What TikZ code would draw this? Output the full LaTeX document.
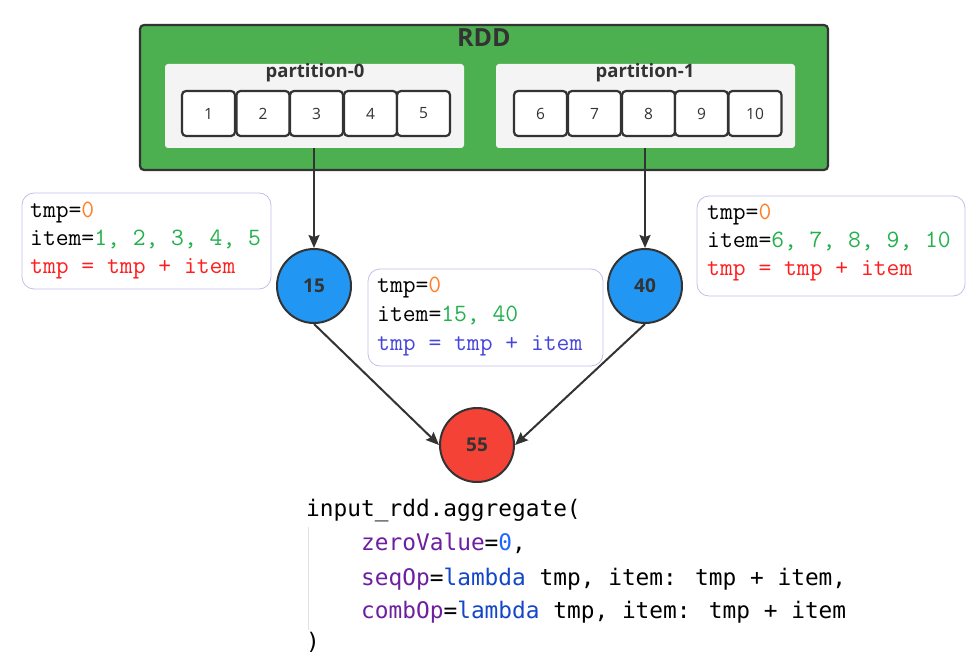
\documentclass[tikz,border=0pt]{standalone}
\usepackage{fontspec}
\setmainfont{Open Sans}
\newfontfamily\codefont{DejaVu Sans Mono}
\usetikzlibrary{arrows.meta}
\definecolor{rddgreen}{RGB}{76,175,80}
\definecolor{dark}{RGB}{51,51,51}
\definecolor{partfill}{RGB}{244,244,244}
\definecolor{cblue}{RGB}{33,150,243}
\definecolor{cred}{RGB}{244,67,54}
\definecolor{lav}{RGB}{195,190,235}
\definecolor{torange}{RGB}{255,127,39}
\definecolor{tgreen}{RGB}{34,177,76}
\definecolor{tred}{RGB}{255,30,30}
\definecolor{tblue}{RGB}{70,70,220}
\definecolor{kpurple}{RGB}{110,30,160}
\definecolor{knum}{RGB}{30,100,255}
\definecolor{kblue}{RGB}{20,70,200}
\definecolor{guide}{RGB}{225,225,225}
\tikzset{
  rddbox/.style={draw=dark, line width=2.2pt, fill=rddgreen, rounded corners=4pt, minimum width=688pt, minimum height=145pt},
  partbox/.style={fill=partfill, rounded corners=3pt, minimum width=299pt, minimum height=84pt},
  elem/.style={draw=dark, line width=2.2pt, fill=white, rounded corners=4pt, minimum width=53pt, minimum height=45pt, text=dark, font=\fontsize{15.5}{17}\selectfont},
  res/.style={circle, draw=dark, line width=2pt, minimum size=74pt, text=dark, font=\bfseries\fontsize{19}{21}\selectfont},
  arr/.style={draw=dark, line width=2pt, -{Stealth[length=13pt,width=11pt,inset=2pt]}},
  note/.style={draw=lav, line width=0.8pt, rounded corners=12pt, fill=white},
  ln/.style={anchor=base west, inner sep=0pt, font=\ttfamily\fontsize{24.9}{28}\selectfont},
  cd/.style={anchor=base west, inner sep=0pt, font=\codefont\fontsize{22.8}{26}\selectfont},
  lbl/.style={inner sep=0pt, text=dark, font=\bfseries\fontsize{18.5}{20}\selectfont}
}
\begin{document}
\begin{tikzpicture}[x=1pt,y=-1pt]
\useasboundingbox (0,0) rectangle (979,663);
% RDD container
\node[rddbox] (rdd) at (484,97.5) {};
\node[inner sep=0pt, text=dark, font=\bfseries\fontsize{25}{28}\selectfont] (rddt) at (484,38) {RDD};
\node[partbox] (p0) at (314.5,106) {};
\node[partbox] (p1) at (645.5,106) {};
\node[lbl] (p0t) at (315,73) {partition-0};
\node[lbl] (p1t) at (645,73) {partition-1};
% elements
\node[elem] (e1) at (208.5,113.5) {1};
\node[elem] (e2) at (263,113.5) {2};
\node[elem] (e3) at (316.5,113.5) {3};
\node[elem] (e4) at (370.5,113.5) {4};
\node[elem] (e5) at (423.5,113.5) {5};
\node[elem] (e6) at (540.5,113.5) {6};
\node[elem] (e7) at (594.5,113.5) {7};
\node[elem] (e8) at (648.5,113.5) {8};
\node[elem] (e9) at (701.5,113.5) {9};
\node[elem] (e10) at (755,113.5) {10};
% notes
\node[note, minimum width=249pt, minimum height=96pt] (n1) at (146.5,241) {};
\node[ln] (n1a) at (30,217) {tmp=\textcolor{torange}{0}};
\node[ln] (n1b) at (30,245) {item=\textcolor{tgreen}{1, 2, 3, 4, 5}};
\node[ln, text=tred] (n1c) at (30,273) {tmp = tmp + item};
\node[note, minimum width=235pt, minimum height=97pt] (n2) at (485.5,317.5) {};
\node[ln] (n2a) at (377,292) {tmp=\textcolor{torange}{0}};
\node[ln] (n2b) at (377,321) {item=\textcolor{tgreen}{15, 40}};
\node[ln, text=tblue] (n2c) at (377,350) {tmp = tmp + item};
\node[note, minimum width=268pt, minimum height=100pt] (n3) at (831,246) {};
\node[ln] (n3a) at (707,219) {tmp=\textcolor{torange}{0}};
\node[ln] (n3b) at (707,247) {item=\textcolor{tgreen}{6, 7, 8, 9, 10}};
\node[ln, text=tred] (n3c) at (707,275) {tmp = tmp + item};
% result circles
\node[res, fill=cblue] (c15) at (314,286) {15};
\node[res, fill=cblue] (c40) at (645,286) {40};
\node[res, fill=cred] (c55) at (477,445) {55};
% arrows
\draw[arr] (c15 |- p0.south) -- (c15);
\draw[arr] (c40 |- p1.south) -- (c40);
\draw[arr] (c15.south) -- (c55.west);
\draw[arr] (c40.south) -- (c55.east);
% code
\coordinate (g1) at (308,527);
\coordinate (g2) at (308,630);
\draw[guide, line width=1pt] (g1) -- (g2);
\node[cd] (k1) at (306,516) {input\char"5F rdd.aggregate(};
\node[cd] (k2) at (361,550) {\textcolor{kpurple}{zeroValue}=\textcolor{knum}{0},};
\node[cd] (k3) at (361,585) {\textcolor{kpurple}{seqOp}=\textcolor{kblue}{lambda} tmp, item: tmp + item,};
\node[cd] (k4) at (361,618) {\textcolor{kpurple}{combOp}=\textcolor{kblue}{lambda} tmp, item: tmp + item};
\node[cd] (k5) at (306,649) {)};
\end{tikzpicture}
\end{document}
